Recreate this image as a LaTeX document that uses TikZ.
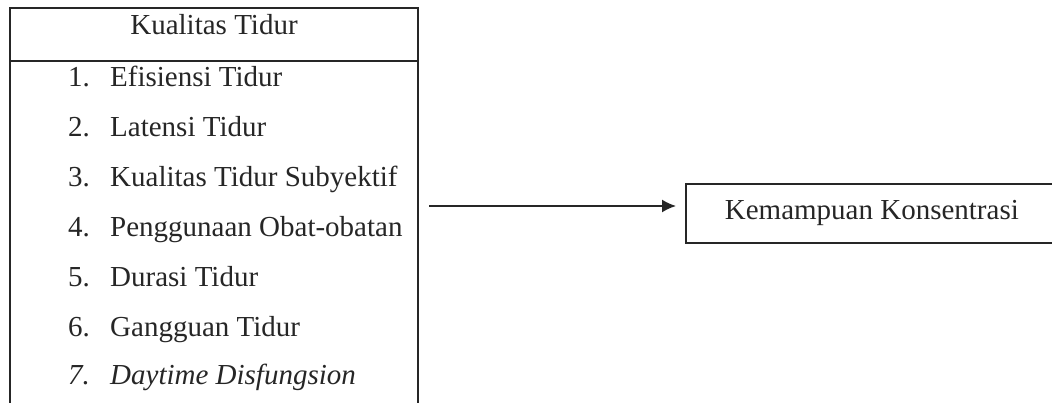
\documentclass[tikz,border=0pt]{standalone}
\usepackage{fontspec}
\setmainfont{Liberation Serif}
\usetikzlibrary{arrows.meta}
\begin{document}
\begin{tikzpicture}[x=1pt,y=-1pt,
  box/.style={draw=black!85,line width=1.7pt,rectangle,inner sep=0pt},
  txt/.style={font=\fontsize{29}{34}\selectfont,inner sep=0pt,text=black!85},
  arr/.style={line width=1.7pt,draw=black!85,-{Latex[length=14pt,width=13pt]}}]
\useasboundingbox (0,0) rectangle (1052,403);
\clip (0,0) rectangle (1052,403);
% left boxes
\node[box,minimum width=408pt,minimum height=53pt,anchor=north west] (head) at (9,7) {};
\node[box,minimum width=408pt,minimum height=370pt,anchor=north west] (list) at (9,60) {};
\node[txt,anchor=base] (title) at (214,35) {Kualitas Tidur};
% items
\foreach \n/\t/\y in {1/Efisiensi Tidur/87,2/Latensi Tidur/137,3/Kualitas Tidur Subyektif/187,4/Penggunaan Obat-obatan/237,5/Durasi Tidur/287,6/Gangguan Tidur/336}{
  \node[txt,anchor=base west] (num\n) at (68,\y) {\n.};
  \node[txt,anchor=base west] (item\n) at (110,\y) {\t};
}
\node[txt,anchor=base west] (num7) at (68,384) {\itshape 7.};
\node[txt,anchor=base west] (item7) at (110,384) {\itshape Daytime Disfungsion};
% right box
\node[box,txt,minimum width=374pt,minimum height=59pt,anchor=north west] (kk) at (685,183) {\hspace*{-2pt}Kemampuan Konsentrasi};
% arrow
\coordinate (a1) at (429,206);
\coordinate (a2) at (676,206);
\draw[arr] (a1) -- (a2);
\end{tikzpicture}
\end{document}
